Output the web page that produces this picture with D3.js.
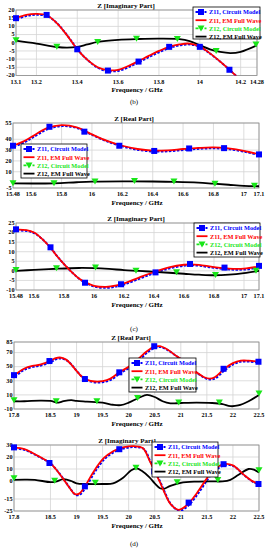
<!DOCTYPE html>
<html>
<head>
<meta charset="utf-8">
<script src="https://cdn.jsdelivr.net/npm/d3@7"></script>
<style>
  body { margin: 0; background: #fff; }
  svg { display: block; font-family: "Liberation Serif", "Times New Roman", serif; font-weight: bold; }
</style>
</head>
<body>
<svg id="fig" width="270" height="550"></svg>
<script>
// ---- (b) Z imaginary part, 13.1 - 14.28 GHz
const bImXTicks = [13.1, 13.2, 13.4, 13.6, 13.8, 14, 14.2, 14.28];
const bImYTicks = [20, 15, 10, 5, 0, -5, -10, -15, -20];
const bImZ11Circuit = [[13.1,15],[13.25,17],[13.4,-4],[13.55,-17],[13.7,-11.5],[13.85,-2.5],[14.0,-2.5],[14.145,-16.5]];
const bImZ11EM = [[13.1,15],[13.15,17],[13.2,17.6],[13.25,16.8],[13.3,12],[13.35,4.5],[13.4,-4],[13.45,-10.5],[13.5,-15],[13.55,-16.8],[13.6,-16.5],[13.65,-14.2],[13.7,-11.2],[13.75,-8],[13.8,-5],[13.85,-2.5],[13.9,-1],[13.95,-0.5],[14.0,-2.3],[14.05,-6.5],[14.1,-11.5],[14.15,-17],[14.18,-20.5]];
const bImZ12Circuit = [[13.1,1.5],[13.3,-2.5],[13.5,0.5],[13.69,2.5],[13.89,2.3],[14.08,-5],[14.275,-1]];
const bImZ12EM = [[13.1,1.3],[13.2,-0.5],[13.3,-2.6],[13.35,-3],[13.4,-2.5],[13.45,-1],[13.5,0.5],[13.6,1.8],[13.7,2.3],[13.8,2.5],[13.9,2.2],[13.95,1],[14.0,-1.5],[14.05,-4],[14.1,-5.6],[14.15,-6.3],[14.2,-5.5],[14.28,-1.5]];

// ---- (c) 15.48 - 17.1 GHz
const cXTicks = [15.48, 15.6, 15.8, 16, 16.2, 16.4, 16.6, 16.8, 17, 17.1];
const cReYTicks = [55, 40, 30, 20, 10, -5];
const cReZ11Circuit = [[15.48,34],[15.72,51.5],[15.95,47],[16.18,34],[16.41,29.2],[16.64,31.5],[16.87,31.8],[17.1,26]];
const cReZ11EM = [[15.48,34],[15.55,38],[15.6,42],[15.7,50],[15.8,53],[15.9,51],[16.0,44.5],[16.1,38.5],[16.2,34],[16.3,31],[16.4,29.5],[16.5,29.8],[16.6,31],[16.7,32],[16.8,32.5],[16.9,31.5],[17.0,29.3],[17.1,26]];
const cReZ12Circuit = [[15.48,-0.7],[15.75,-0.7],[16.02,0.9],[16.28,1.5],[16.54,0.9],[16.81,-1.1],[17.07,-2.9]];
const cReZ12EM = [[15.48,-0.8],[15.75,-0.7],[15.9,0.3],[16.0,0.8],[16.2,1.1],[16.4,1.0],[16.55,0.7],[16.7,0],[16.8,-1],[16.9,-2],[17.0,-3],[17.1,-3.4]];

const cImYTicks = [25, 20, 15, 10, 5, 0, -5, -10];
const cImZ11Circuit = [[15.48,21.7],[15.71,12.3],[15.94,-6.2],[16.18,-7],[16.41,-0.8],[16.64,3.6],[16.87,1.7],[17.1,2.6]];
const cImZ11EM = [[15.48,21.5],[15.55,21.3],[15.6,20],[15.65,17],[15.7,13],[15.75,8],[15.8,3.5],[15.85,-0.5],[15.9,-4],[15.95,-6.3],[16.0,-7.8],[16.08,-8.4],[16.15,-7.6],[16.2,-6.5],[16.3,-3.5],[16.4,-0.6],[16.5,1.8],[16.6,3.2],[16.65,3.4],[16.7,3.1],[16.8,2.0],[16.9,1.2],[17.0,1.2],[17.1,2.3]];
const cImZ12Circuit = [[15.48,0.5],[15.75,1.4],[16.01,1.7],[16.28,0.1],[16.55,-0.7],[16.81,-2.1],[17.08,0.1]];
const cImZ12EM = [[15.48,0],[15.6,0.5],[15.75,1.1],[15.9,1.5],[16.0,1.4],[16.1,1.0],[16.2,0.4],[16.3,0],[16.4,-0.5],[16.5,-1.0],[16.6,-1.5],[16.7,-2.0],[16.8,-2.3],[16.9,-2.0],[17.0,-1.2],[17.1,0]];

// ---- (d) 17.8 - 22.5 GHz
const dXTicks = [17.8, 18.5, 19, 19.5, 20, 20.5, 21, 21.5, 22, 22.5];
const dReYTicks = [85, 70, 50, 30, 10, -10];
const dReZ11Circuit = [[17.8,38],[18.48,58],[19.16,32.5],[19.82,42],[20.49,79],[21.15,52],[21.82,47],[22.49,57]];
const dReZ11EM = [[17.8,37],[17.9,43],[18.0,47.5],[18.15,51],[18.3,53],[18.48,57.5],[18.6,62],[18.68,63],[18.8,60],[18.9,53],[19.0,44],[19.1,36],[19.2,31.5],[19.35,29],[19.5,29.5],[19.65,33],[19.82,42],[20.0,50],[20.2,62],[20.35,72],[20.5,78.5],[20.6,79],[20.75,74],[20.9,66],[21.0,61],[21.15,51],[21.3,42],[21.45,35],[21.55,33],[21.65,35],[21.82,46],[22.0,55],[22.15,58.5],[22.3,58.5],[22.5,57]];
const dReZ12Circuit = [[17.8,2.3],[18.61,0.9],[19.39,0.9],[20.17,5.5],[20.96,-0.7],[21.74,-0.7],[22.5,12]];
const dReZ12EM = [[17.8,1],[18.0,1],[18.3,2],[18.5,1.5],[18.65,-1],[18.75,1],[18.9,2.5],[19.0,1.5],[19.2,0.5],[19.5,-1],[19.7,-4],[19.85,-4.5],[20.0,-1],[20.2,6],[20.35,10],[20.5,7],[20.65,1],[20.8,-2],[21.0,-1.5],[21.3,-1],[21.6,-1.5],[21.8,-3],[21.95,-6],[22.1,-5],[22.3,1],[22.5,10]];

const dImYTicks = [30, 20, 10, 0, -15, -25];
const dImZ11Circuit = [[17.8,28],[18.48,15],[19.16,-4.5],[19.82,26.5],[20.49,8],[21.15,-18],[21.82,14],[22.49,-2.5]];
const dImZ11EM = [[17.8,28],[18.0,26.5],[18.15,23.5],[18.3,20],[18.48,15.5],[18.6,10],[18.74,2],[18.87,-6],[18.97,-11],[19.05,-10.5],[19.16,-4.5],[19.33,8],[19.52,19],[19.71,25],[19.82,27],[20.0,28.8],[20.1,29],[20.27,27.5],[20.4,17],[20.5,8],[20.6,-1],[20.68,-9],[20.8,-19],[20.96,-24],[21.12,-20],[21.31,-10],[21.5,2.2],[21.63,9],[21.82,14],[22.0,13],[22.2,5.5],[22.39,-0.5],[22.5,-2]];
const dImZ12Circuit = [[17.8,2.2],[18.58,0.3],[19.36,-1.4],[20.14,11],[20.93,-1.1],[21.71,0.8],[22.5,9]];
const dImZ12EM = [[17.8,1],[18.0,1.2],[18.2,1],[18.5,-1],[18.6,-0.5],[18.75,1.5],[18.9,0],[19.0,-2],[19.2,-2.5],[19.5,-2.5],[19.7,-2],[19.9,3],[20.05,9],[20.15,10.5],[20.25,8.5],[20.4,3],[20.5,-2],[20.6,-6],[20.68,-6.5],[20.8,-4],[21.0,-1.5],[21.3,-0.5],[21.6,-0.3],[21.8,-0.3],[21.95,1],[22.1,5],[22.3,10],[22.4,9.5],[22.5,7]];

const legendLabels = ["Z11,  Circuit Model", "Z11, EM Full Wave", "Z12, Circuit Model", "Z12, EM Full Wave"];
const BLUE = "#0000ff", RED = "#ff0000", GREEN = "#19e619", BLACK = "#000";

// layout of the five panels
const panels = [
  { title: "Z [Imaginary Part]", titleX: 126, left: 16, right: 257, top: 10, bottom: 75.5,
    xd: [13.1, 14.28], yd: [-20, 20], xt: bImXTicks, yt: bImYTicks,
    z11c: bImZ11Circuit, z11e: bImZ11EM, z12c: bImZ12Circuit, z12e: bImZ12EM,
    leg: { x: 193, y: 7, w: 67, h: 32 }, tag: "(b)", tagY: 104 },
  { title: "Z [Real Part]", titleX: 134, left: 13, right: 259, top: 123, bottom: 188,
    xd: [15.48, 17.1], yd: [-5, 55], xt: cXTicks, yt: cReYTicks,
    z11c: cReZ11Circuit, z11e: cReZ11EM, z12c: cReZ12Circuit, z12e: cReZ12EM,
    leg: { x: 21, y: 144, w: 66, h: 34 } },
  { title: "Z [Imaginary Part]", titleX: 136, left: 16, right: 259, top: 223, bottom: 290,
    xd: [15.48, 17.1], yd: [-10, 25], xt: cXTicks, yt: cImYTicks,
    z11c: cImZ11Circuit, z11e: cImZ11EM, z12c: cImZ12Circuit, z12e: cImZ12EM,
    leg: { x: 194, y: 223, w: 66, h: 34 }, tag: "(c)", tagY: 331 },
  { title: "Z [Real Part]", titleX: 131, left: 14, right: 259, top: 342, bottom: 409,
    xd: [17.8, 22.5], yd: [-10, 85], xt: dXTicks, yt: dReYTicks,
    z11c: dReZ11Circuit, z11e: dReZ11EM, z12c: dReZ12Circuit, z12e: dReZ12EM,
    leg: { x: 129, y: 358, w: 67, h: 34 } },
  { title: "Z [Imaginary Part]", titleX: 127, left: 14, right: 259, top: 445, bottom: 511,
    xd: [17.8, 22.5], yd: [-25, 30], xt: dXTicks, yt: dImYTicks,
    z11c: dImZ11Circuit, z11e: dImZ11EM, z12c: dImZ12Circuit, z12e: dImZ12EM,
    leg: { x: 152, y: 442, w: 66, h: 35 }, tag: "(d)", tagY: 546 }
];

const svg = d3.select("#fig");
const defs = svg.append("defs");

function square(g, x, y) {
  g.append("rect").attr("x", x - 3).attr("y", y - 3).attr("width", 6).attr("height", 6).attr("fill", BLUE);
}
function triDown(g, x, y) {
  g.append("path").attr("d", `M${x - 3.5},${y - 3}L${x + 3.5},${y - 3}L${x},${y + 3}Z`).attr("fill", GREEN);
}

panels.forEach((p, i) => {
  const x = d3.scaleLinear().domain(p.xd).range([p.left, p.right]);
  const y = d3.scaleLinear().domain(p.yd).range([p.bottom, p.top]);
  const g = svg.append("g");

  // grid
  g.append("g").selectAll("line").data(p.xt).enter().append("line")
    .attr("x1", d => x(d)).attr("x2", d => x(d)).attr("y1", p.top).attr("y2", p.bottom)
    .attr("stroke", "#d4d4d4").attr("stroke-width", 0.8);
  g.append("g").selectAll("line").data(p.yt).enter().append("line")
    .attr("x1", p.left).attr("x2", p.right).attr("y1", d => y(d)).attr("y2", d => y(d))
    .attr("stroke", "#d4d4d4").attr("stroke-width", 0.8);
  g.append("rect").attr("x", p.left).attr("y", p.top)
    .attr("width", p.right - p.left).attr("height", p.bottom - p.top)
    .attr("fill", "none").attr("stroke", "#8a8a8a").attr("stroke-width", 0.8);

  // tick labels
  g.append("g").selectAll("text").data(p.xt).enter().append("text")
    .attr("x", d => x(d)).attr("y", p.bottom + 8.3).attr("text-anchor", "middle")
    .attr("font-size", 6.2).text(d => d);
  g.append("g").selectAll("text").data(p.yt).enter().append("text")
    .attr("x", p.left - 1.5).attr("y", d => y(d) + 1.8).attr("text-anchor", "end")
    .attr("font-size", 6.2).text(d => d);

  g.append("text").attr("x", p.titleX).attr("y", p.top - 2.5).attr("text-anchor", "middle")
    .attr("font-size", 7).text(p.title);
  g.append("text").attr("x", 137).attr("y", p.bottom + 16.5).attr("text-anchor", "middle")
    .attr("font-size", 7).text("Frequency / GHz");
  if (p.tag) {
    g.append("text").attr("x", 134).attr("y", p.tagY).attr("text-anchor", "middle")
      .attr("font-size", 7).attr("font-weight", "normal").text(p.tag);
  }

  // clipped curves
  defs.append("clipPath").attr("id", "clip" + i).append("rect")
    .attr("x", p.left).attr("y", p.top).attr("width", p.right - p.left).attr("height", p.bottom - p.top);
  const plot = g.append("g").attr("clip-path", `url(#clip${i})`);
  const line = d3.line().x(d => x(d[0])).y(d => y(d[1])).curve(d3.curveCatmullRom.alpha(0.5));

  plot.append("path").datum(p.z11e).attr("d", line).attr("fill", "none")
    .attr("stroke", BLUE).attr("stroke-width", 2).attr("stroke-dasharray", "2.5,1.5")
    .attr("transform", "translate(0.9,0.9)");
  plot.append("path").datum(p.z12e).attr("d", line).attr("fill", "none")
    .attr("stroke", BLACK).attr("stroke-width", 1.8);
  plot.append("path").datum(p.z11e).attr("d", line).attr("fill", "none")
    .attr("stroke", RED).attr("stroke-width", 1.8);

  const mk = g.append("g");
  p.z11c.forEach(d => square(mk, x(d[0]), y(d[1])));
  p.z12c.forEach(d => triDown(mk, x(d[0]), y(d[1])));

  // legend
  const L = p.leg;
  const lg = g.append("g");
  lg.append("rect").attr("x", L.x).attr("y", L.y).attr("width", L.w).attr("height", L.h)
    .attr("fill", "#fff").attr("stroke", "#000").attr("stroke-width", 0.8);
  const colors = [BLUE, RED, GREEN, BLACK];
  legendLabels.forEach((lab, k) => {
    const ry = L.y + 5 + k * 8.2;
    const sx = L.x + 2.5;
    lg.append("line").attr("x1", sx).attr("x2", sx + 11).attr("y1", ry).attr("y2", ry)
      .attr("stroke", colors[k]).attr("stroke-width", 1.8)
      .attr("stroke-dasharray", (k === 0 || k === 2) ? "3,1.5" : null);
    if (k === 0) square(lg, sx + 5.5, ry);
    if (k === 2) triDown(lg, sx + 5.5, ry);
    lg.append("text").attr("x", sx + 13.5).attr("y", ry + 2.3)
      .attr("font-size", 6.3).attr("fill", colors[k]).text(lab);
  });
});
</script>
</body>
</html>
